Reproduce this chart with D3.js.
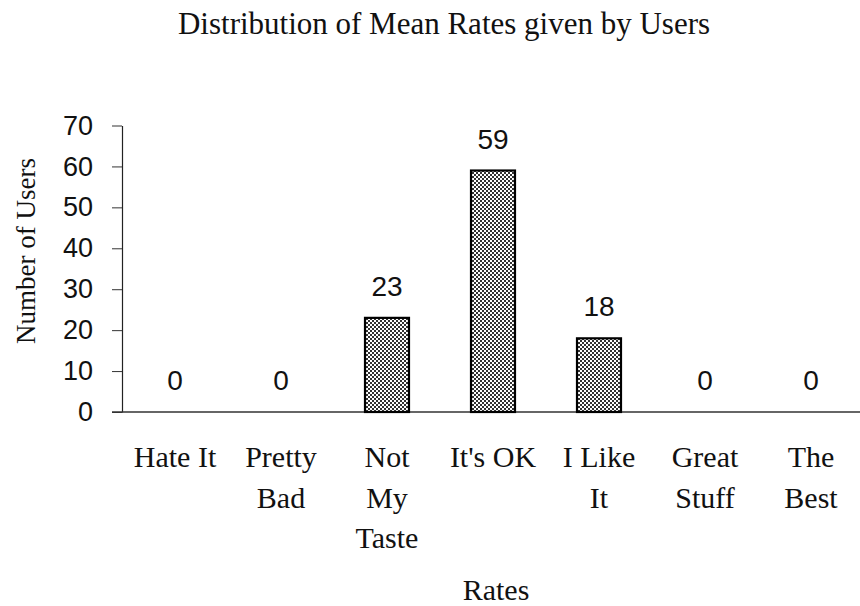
<!DOCTYPE html>
<html>
<head>
<meta charset="utf-8">
<script src="https://cdn.jsdelivr.net/npm/d3@7"></script>
<style>
  html, body { margin: 0; padding: 0; background: #fff; }
  svg { display: block; }
</style>
</head>
<body>
<svg id="chart" width="860" height="606"></svg>
<script>
const categories = [["Hate It"], ["Pretty", "Bad"], ["Not", "My", "Taste"], ["It's OK"], ["I Like", "It"], ["Great", "Stuff"], ["The", "Best"]];
const values = [0, 0, 23, 59, 18, 0, 0];
const yTicks = [0, 10, 20, 30, 40, 50, 60, 70];
const titleText = "Distribution of Mean Rates given by Users";
const xTitle = "Rates";
const yTitle = "Number of Users";

const svg = d3.select("#chart");
const serif = "'Liberation Serif', 'Times New Roman', serif";
const sans = "'Liberation Sans', Arial, sans-serif";
const ink = "#111";

const keys = categories.map(c => c.join(" "));
const x = d3.scaleBand().domain(keys).range([122, 864]).paddingInner(0.585).paddingOuter(0.2925);
const y = d3.scaleLinear().domain([0, 70]).range([412, 125.5]);

// pattern for bars
const defs = svg.append("defs");
const pat = defs.append("pattern").attr("id", "dots").attr("patternUnits", "userSpaceOnUse")
  .attr("width", 4).attr("height", 4);
pat.append("rect").attr("width", 4).attr("height", 4).attr("fill", "#fff");
pat.append("rect").attr("x", 0).attr("y", 0).attr("width", 2).attr("height", 2).attr("fill", "#333");
pat.append("rect").attr("x", 2).attr("y", 2).attr("width", 2).attr("height", 2).attr("fill", "#333");

// title
svg.append("text").attr("x", 444).attr("y", 34).attr("text-anchor", "middle")
  .attr("font-family", serif).attr("font-size", 31).attr("fill", ink).text(titleText);

// y axis
const yAxis = d3.axisLeft(y).tickValues(yTicks).tickSize(10).tickSizeOuter(0).tickPadding(19);
const gy = svg.append("g").attr("transform", "translate(122,0)").call(yAxis);
gy.select(".domain").attr("stroke", "#222").attr("stroke-width", 1.2);
gy.selectAll(".tick line").attr("stroke", "#333").attr("stroke-width", 1);
gy.selectAll(".tick text").attr("font-family", sans).attr("font-size", 27).attr("fill", ink);

// x axis baseline
const xAxis = d3.axisBottom(x).tickSize(0).tickFormat("");
const gx = svg.append("g").attr("transform", "translate(0,412)").call(xAxis);
gx.select(".domain").attr("d", "M112,0H860").attr("stroke", "#333").attr("stroke-width", 1.5);

// bars
svg.append("g").selectAll("rect").data(values.map((v, i) => ({k: keys[i], v})).filter(d => d.v > 0))
  .join("rect")
  .attr("x", d => x(d.k)).attr("width", x.bandwidth())
  .attr("y", d => y(d.v)).attr("height", d => y(0) - y(d.v))
  .attr("fill", "url(#dots)").attr("stroke", "#000").attr("stroke-width", 2.2);

// value labels
svg.append("g").selectAll("text").data(values.map((v, i) => ({k: keys[i], v})))
  .join("text")
  .attr("x", d => x(d.k) + x.bandwidth() / 2)
  .attr("y", d => y(d.v) - 22)
  .attr("text-anchor", "middle")
  .attr("font-family", sans).attr("font-size", 28).attr("fill", ink)
  .text(d => d.v);

// category labels
const lab = svg.append("g").selectAll("text").data(categories.map((c, i) => ({k: keys[i], lines: c})))
  .join("text")
  .attr("text-anchor", "middle")
  .attr("font-family", serif).attr("font-size", 30).attr("fill", ink)
  .attr("transform", d => `translate(${x(d.k) + x.bandwidth() / 2},467)`);
lab.selectAll("tspan").data(d => d.lines).join("tspan")
  .attr("x", 0).attr("y", (l, i) => i * 40.5).text(l => l);

// axis titles
svg.append("text").attr("x", 496).attr("y", 600).attr("text-anchor", "middle")
  .attr("font-family", serif).attr("font-size", 30).attr("fill", ink).text(xTitle);
svg.append("text").attr("transform", "translate(35,251) rotate(-90)").attr("text-anchor", "middle")
  .attr("font-family", serif).attr("font-size", 27).attr("fill", ink).text(yTitle);
</script>
</body>
</html>
